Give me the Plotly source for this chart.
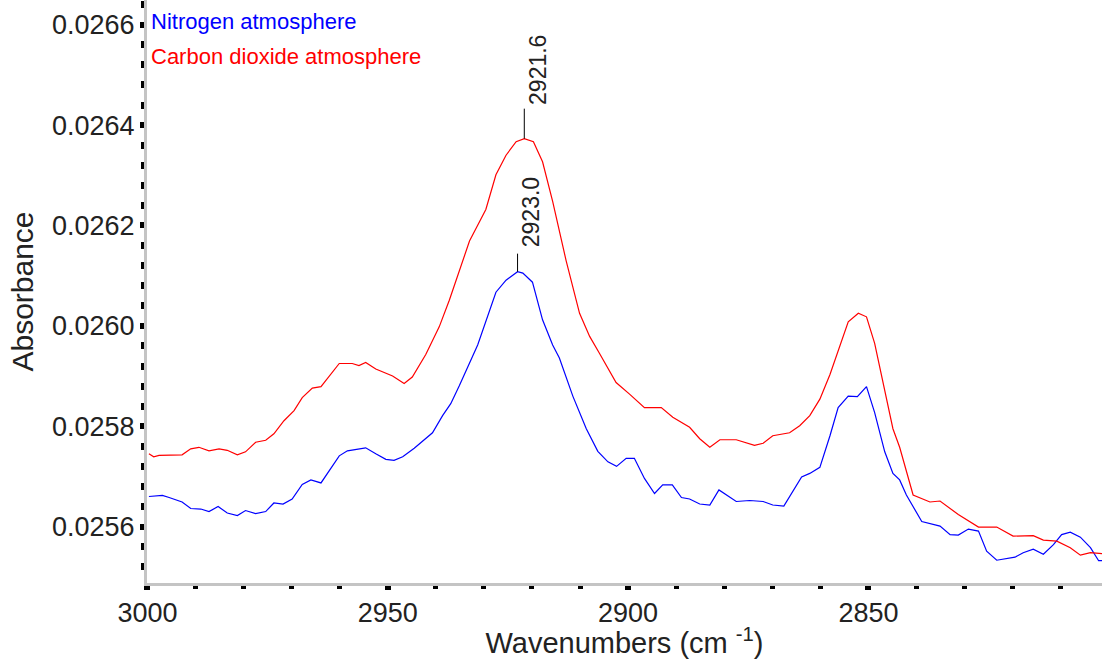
import plotly.graph_objects as go

# Nitrogen atmosphere (blue)
n2_wavenumber = [2999.7, 2996.9, 2995.5, 2992.8, 2991.0, 2988.9, 2987.2, 2985.3, 2983.4, 2981.3,
                 2979.6, 2977.5, 2975.4, 2973.7, 2971.8, 2969.9, 2967.8, 2966.0, 2963.9, 2960.1,
                 2958.4, 2954.6, 2952.5, 2950.4, 2948.7, 2946.9, 2944.5, 2940.7, 2938.6, 2936.9,
                 2935.1, 2931.3, 2927.5, 2925.4, 2923.0, 2921.9, 2919.9, 2917.8, 2915.7, 2914.3,
                 2911.5, 2908.7, 2906.3, 2904.2, 2902.4, 2900.4, 2898.7, 2896.6, 2894.5, 2892.8,
                 2890.8, 2888.9, 2887.2, 2885.1, 2883.0, 2881.1, 2877.5, 2874.7, 2871.9, 2869.9,
                 2867.6, 2865.7, 2863.9, 2862.2, 2860.1, 2858.0, 2856.3, 2854.2, 2852.3, 2850.4,
                 2848.7, 2846.6, 2844.9, 2843.5, 2842.1, 2838.9, 2835.1, 2833.0, 2831.3, 2829.2,
                 2827.1, 2825.4, 2823.3, 2819.5, 2817.8, 2815.7, 2813.6, 2811.5, 2809.8, 2808.0,
                 2805.9, 2803.8, 2802.1, 2801.0]
n2_absorbance = [0.025660, 0.025662, 0.025658, 0.025649, 0.025636, 0.025635, 0.025630, 0.025640, 0.025627, 0.025622,
                 0.025632, 0.025626, 0.025630, 0.025647, 0.025645, 0.025655, 0.025684, 0.025693, 0.025687, 0.025741,
                 0.025751, 0.025757, 0.025745, 0.025734, 0.025732, 0.025739, 0.025756, 0.025787, 0.025821, 0.025845,
                 0.025881, 0.025962, 0.026067, 0.026091, 0.026108, 0.026105, 0.026087, 0.026012, 0.025962, 0.025936,
                 0.025860, 0.025795, 0.025750, 0.025729, 0.025720, 0.025736, 0.025736, 0.025696, 0.025666, 0.025683,
                 0.025683, 0.025658, 0.025655, 0.025645, 0.025643, 0.025673, 0.025650, 0.025652, 0.025650, 0.025643,
                 0.025641, 0.025670, 0.025699, 0.025706, 0.025718, 0.025781, 0.025837, 0.025860, 0.025859, 0.025879,
                 0.025827, 0.025749, 0.025706, 0.025693, 0.025663, 0.025610, 0.025601, 0.025584, 0.025583, 0.025595,
                 0.025591, 0.025551, 0.025533, 0.025539, 0.025548, 0.025555, 0.025545, 0.025564, 0.025584, 0.025589,
                 0.025579, 0.025558, 0.025532, 0.025532]

# Carbon dioxide atmosphere (red)
co2_wavenumber = [2999.7, 2998.7, 2997.6, 2992.8, 2991.0, 2989.3, 2987.2, 2985.1, 2983.4, 2981.3,
                  2979.6, 2977.5, 2975.4, 2973.7, 2971.6, 2969.5, 2967.8, 2965.7, 2963.9, 2962.2,
                  2960.1, 2957.4, 2956.0, 2954.6, 2952.5, 2949.0, 2946.6, 2944.9, 2942.1, 2939.3,
                  2937.2, 2933.0, 2929.6, 2927.5, 2925.4, 2923.3, 2921.6, 2919.7, 2917.8, 2915.7,
                  2912.9, 2910.1, 2908.0, 2906.0, 2902.5, 2899.7, 2896.6, 2893.1, 2890.7, 2887.2,
                  2885.1, 2883.0, 2880.9, 2877.5, 2873.7, 2871.9, 2869.9, 2866.4, 2864.3, 2862.2,
                  2860.1, 2858.0, 2855.9, 2854.2, 2852.1, 2850.4, 2848.7, 2846.6, 2844.9, 2843.5,
                  2840.7, 2837.2, 2835.1, 2831.3, 2829.6, 2827.1, 2823.3, 2819.9, 2815.7, 2813.6,
                  2810.8, 2808.0, 2805.9, 2803.8, 2801.0]
co2_absorbance = [0.025745, 0.025739, 0.025742, 0.025743, 0.025755, 0.025758, 0.025751, 0.025755, 0.025752, 0.025743,
                  0.025749, 0.025768, 0.025772, 0.025785, 0.025811, 0.025831, 0.025857, 0.025876, 0.025879, 0.025900,
                  0.025925, 0.025925, 0.025921, 0.025927, 0.025914, 0.025900, 0.025885, 0.025898, 0.025943, 0.025998,
                  0.026051, 0.026169, 0.026232, 0.026301, 0.026340, 0.026367, 0.026373, 0.026367, 0.026327, 0.026248,
                  0.026130, 0.026025, 0.025979, 0.025946, 0.025887, 0.025864, 0.025837, 0.025837, 0.025818, 0.025798,
                  0.025775, 0.025758, 0.025773, 0.025773, 0.025762, 0.025766, 0.025781, 0.025787, 0.025801, 0.025821,
                  0.025854, 0.025903, 0.025959, 0.026008, 0.026025, 0.026018, 0.025965, 0.025867, 0.025795, 0.025758,
                  0.025663, 0.025649, 0.025651, 0.025624, 0.025614, 0.025599, 0.025599, 0.025581, 0.025582, 0.025573,
                  0.025571, 0.025558, 0.025543, 0.025548, 0.025546]

series_names = ["Nitrogen atmosphere", "Carbon dioxide atmosphere"]
series_colors = ["#0000ff", "#ff0000"]
peak_labels = ["2923.0", "2921.6"]
peak_stem_px = [18, 30]   # style: stem length in pixels
peak_gap_px = [4, 2]      # style: gap between stem and label

x_range = [3000.1, 2801.4]
y_range = [0.0254876, 0.0266493]

FONT = "Liberation Sans, Arial, sans-serif"
TEXT = "#222222"

fig = go.Figure()
series = [(n2_wavenumber, n2_absorbance), (co2_wavenumber, co2_absorbance)]
for (xs, ys), name, color in zip(series, series_names, series_colors):
    fig.add_trace(go.Scatter(x=xs, y=ys, mode="lines", name=name,
                             line=dict(color=color, width=1.2), showlegend=False,
                             hoverinfo="skip"))

# peak markers
for (xs, ys), label, stem, gap in zip(series, peak_labels, peak_stem_px, peak_gap_px):
    px = float(label)
    py = max(ys)
    fig.add_shape(type="line", xref="x", yref="y", x0=px, x1=px,
                  ysizemode="pixel", yanchor=py, y0=0, y1=stem,
                  line=dict(color="black", width=1))
    fig.add_annotation(x=px, y=py, xref="x", yref="y", text=label, textangle=-90,
                       showarrow=False, xanchor="center", yanchor="bottom",
                       xshift=13, yshift=stem + gap,
                       font=dict(family=FONT, size=23, color=TEXT))

# legend-like colored texts
for i, (name, color) in enumerate(zip(series_names, series_colors)):
    fig.add_annotation(x=0, y=1, xref="paper", yref="paper", text=name,
                       showarrow=False, xanchor="left", yanchor="top",
                       xshift=2, yshift=-7 - 35 * i,
                       font=dict(family=FONT, size=22, color=color))

axis_common = dict(showline=True, linecolor="#c4c4c4", linewidth=3,
                   ticks="outside", tickcolor="black", showgrid=False, zeroline=False,
                   tickfont=dict(family=FONT, size=27, color=TEXT))

fig.update_xaxes(range=x_range, tick0=3000, dtick=50, tickformat="d",
                 ticklen=4, tickwidth=6,
                 minor=dict(dtick=10, ticks="outside", ticklen=3, tickwidth=5, tickcolor="black"),
                 title=dict(text="Wavenumbers (cm <sup>-1</sup>)",
                            font=dict(family=FONT, size=29, color=TEXT), standoff=10),
                 **axis_common)
fig.update_yaxes(range=y_range, tick0=0.0256, dtick=0.0002, tickformat=".4f",
                 ticklen=4, tickwidth=6,
                 minor=dict(dtick=0.00004, ticks="outside", ticklen=3, tickwidth=7, tickcolor="black"),
                 title=dict(text="Absorbance",
                            font=dict(family=FONT, size=30, color=TEXT), standoff=10),
                 **axis_common)

fig.update_layout(width=1102, height=659, autosize=False,
                  margin=dict(l=147, r=0, t=0, b=70),
                  paper_bgcolor="white", plot_bgcolor="white",
                  font=dict(family=FONT, color=TEXT))

fig.write_html("out.html")
